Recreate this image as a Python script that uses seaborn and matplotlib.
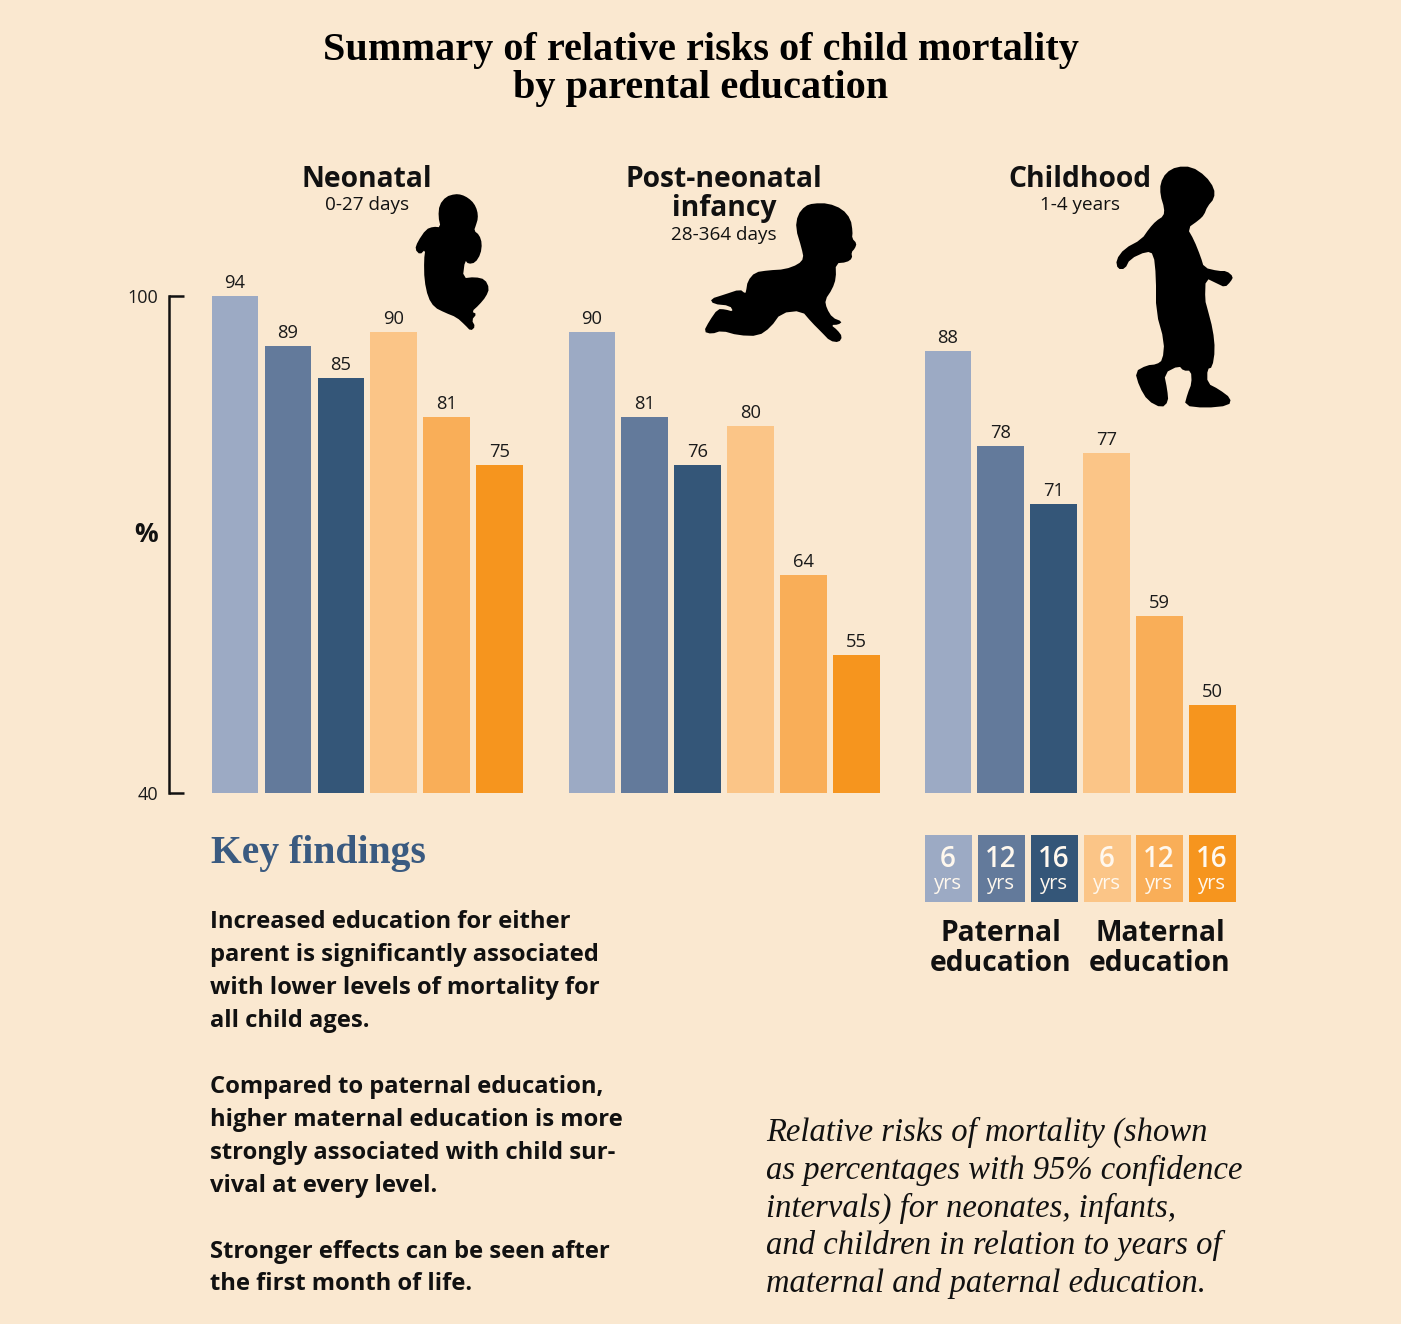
import matplotlib
matplotlib.use('Agg')
import matplotlib.pyplot as plt
from matplotlib.patches import Polygon, Rectangle
import numpy as np
import pandas as pd
import seaborn as sns

# printed numbers above the bars
education = ['P6', 'P12', 'P16', 'M6', 'M12', 'M16']
neonatal_labels = [94, 89, 85, 90, 81, 75]
postneonatal_labels = [90, 81, 76, 80, 64, 55]
childhood_labels = [88, 78, 71, 77, 59, 50]

# bar heights as read on the drawn 40-100 axis (they differ from the printed numbers)
neonatal_heights = [100.0, 93.97, 90.1, 95.66, 85.39, 79.6]
postneonatal_heights = [95.66, 85.39, 79.6, 84.31, 66.32, 56.66]
childhood_heights = [93.36, 81.89, 74.89, 81.05, 61.37, 50.62]

colors = ['#9CAAC4', '#637A9B', '#345678', '#FBC587', '#F9AE58', '#F6951E']
bg = '#FAE8D0'
W, H = 1401, 1324

# silhouettes: (origin, zoomed outline)
baby1 = ((400, 180), [(165,42),(185,44),(205,54),(222,70),(232,92),(234,115),(228,135),(222,152),(238,165),(246,190),(242,222),(226,248),(205,252),(195,240),(188,295),(225,291),(255,298),(268,325),(258,350),(237,375),(215,395),(230,402),(215,420),(226,440),(212,453),(195,435),(170,412),(135,398),(103,382),(84,352),(73,300),(72,240),(76,208),(60,224),(45,208),(53,185),(78,148),(100,140),(122,142),(115,110),(118,75),(138,50)])
baby2 = ((695, 195), [(330,33),(355,25),(400,25),(442,42),(467,72),(473,110),(471,130),(485,145),(480,160),(469,172),(472,190),(455,202),(422,205),(423,250),(412,282),(390,315),(395,340),(412,368),(442,380),(430,389),(408,390),(427,405),(442,425),(432,442),(405,438),(380,412),(350,382),(320,347),(258,354),(227,397),(190,423),(130,421),(80,407),(50,417),(26,410),(43,378),(68,342),(90,343),(115,350),(105,332),(55,327),(46,312),(90,298),(135,283),(150,295),(153,290),(158,258),(180,232),(220,226),(270,223),(310,208),(326,190),(320,160),(302,100),(308,60)])
child = ((1105, 160), [(215,20),(260,20),(302,48),(328,85),(328,115),(307,140),(297,165),(282,180),(247,205),(267,240),(287,290),(297,323),(340,333),(365,333),(385,350),(377,365),(360,382),(335,370),(302,354),(300,420),(307,445),(324,510),(330,570),(322,622),(307,627),(307,670),(342,688),(378,715),(372,737),(300,744),(238,737),(248,700),(260,670),(258,632),(235,632),(222,617),(177,640),(187,690),(190,725),(170,744),(128,722),(103,680),(90,635),(125,616),(155,613),(173,600),(178,545),(153,455),(153,350),(146,282),(125,274),(75,297),(60,327),(38,327),(33,300),(58,266),(110,238),(133,205),(153,183),(176,168),(178,145),(166,105),(166,70),(183,38)])

sns.set_theme(style='white')
plt.rcParams['font.family'] = ['Open Sans', 'DejaVu Sans']
serif = ['Liberation Serif', 'DejaVu Serif']

fig = plt.figure(figsize=(W / 100, H / 100), dpi=100, facecolor=bg)

def panel(left, heights, labels):
    ax = fig.add_axes([left / W, 1 - 793 / H, 317.4 / W, 497 / H])
    df = pd.DataFrame({'education': education, 'height': heights})
    sns.barplot(data=df, x='education', y='height', hue='education', order=education,
                hue_order=education, palette=colors, saturation=1, width=0.88, legend=False,
                linewidth=0, ax=ax)
    ax.set_ylim(40, 100)
    ax.set_xlim(-0.5, 5.5)
    ax.patch.set_alpha(0)
    ax.set_xlabel('')
    ax.set_ylabel('')
    ax.set_xticks([])
    ax.set_yticks([])
    sns.despine(ax=ax, left=True, bottom=True)
    for bar_set, lab in zip(ax.containers, labels):
        ax.bar_label(bar_set, labels=[str(lab)], padding=3, fontsize=13.2, color='#1a1a1a', clip_on=False)
    return ax

ax1 = panel(208.6, neonatal_heights, neonatal_labels)
panel(565.4, postneonatal_heights, postneonatal_labels)
panel(921.4, childhood_heights, childhood_labels)

# bracket style axis on the first panel only
ax1.spines['left'].set_visible(True)
ax1.spines['left'].set_position(('outward', 28.5))
ax1.spines['left'].set_linewidth(1.8)
ax1.spines['left'].set_color('#111111')
ax1.set_yticks([40, 100])
ax1.set_yticklabels(['40', '100'])
ax1.tick_params(axis='y', direction='in', length=10.5, width=1.8, color='#111111',
                pad=8, labelsize=13, labelcolor='#1a1a1a', left=True)

# overlay in picture pixels for the text and silhouettes
ov = fig.add_axes([0, 0, 1, 1], zorder=5)
ov.set_xlim(0, W)
ov.set_ylim(H, 0)
ov.axis('off')

def smooth(pts, rounds=1):
    pts = np.array(pts, dtype=float)
    for _ in range(rounds):
        nxt = np.roll(pts, -1, axis=0)
        pts = np.column_stack([0.75 * pts + 0.25 * nxt, 0.25 * pts + 0.75 * nxt]).reshape(-1, 2)
    return pts

for origin, outline in [baby1, baby2, child]:
    xy = smooth(outline) / 3 + np.array(origin)
    ov.add_patch(Polygon(xy, closed=True, facecolor='black', edgecolor='none'))

def txt(x, y, s, size, weight='normal', ha='center', color='#111111', **kw):
    ov.text(x, y + 2.5, s, fontsize=size, fontweight=weight, ha=ha, va='center', color=color, **kw)

txt(701, 48, 'Summary of relative risks of child mortality', 29, 'bold', family=serif, color='black')
txt(701, 86, 'by parental education', 29, 'bold', family=serif, color='black')

txt(367, 177, 'Neonatal', 20.3, 'bold')
txt(367, 203, '0-27 days', 13.6)
txt(724, 177, 'Post-neonatal', 20.3, 'bold')
txt(724, 206, 'infancy', 20.3, 'bold')
txt(724, 233, '28-364 days', 13.6)
txt(1080, 177, 'Childhood', 20.3, 'bold')
txt(1080, 203, '1-4 years', 13.6)
txt(146, 532, '%', 19, 'bold')

txt(211, 851, 'Key findings', 28.5, 'bold', ha='left', family=serif, color='#3A5A80')

body = ['Increased education for either', 'parent is significantly associated',
        'with lower levels of mortality for', 'all child ages.', '',
        'Compared to paternal education,', 'higher maternal education is more',
        'strongly associated with child sur-', 'vival at every level.', '',
        'Stronger effects can be seen after', 'the first month of life.']
for i, line in enumerate(body):
    txt(210.5, 920 + i * 32.9, line, 17.1, 'bold', ha='left')

note = ['Relative risks of mortality (shown', 'as percentages with 95% confidence',
        'intervals) for neonates, infants,', 'and children in relation to years of',
        'maternal and paternal education.']
for i, line in enumerate(note):
    txt(766, 1130 + i * 37.8, line, 23.5, ha='left', family=serif, style='italic')

# colour key under the third panel
key_x = [925, 978, 1031, 1084, 1136, 1189]
key_years = ['6', '12', '16', '6', '12', '16']
for x0, col, yr in zip(key_x, colors, key_years):
    ov.add_patch(Rectangle((x0, 835), 46.5, 67, facecolor=col, edgecolor='none'))
    txt(x0 + 23, 857, yr, 20, 'semibold', color='#FFF8EE')
    txt(x0 + 23, 881, 'yrs', 14.5, color='#FFF8EE')

txt(1001, 931, 'Paternal', 20.3, 'bold')
txt(1001, 961, 'education', 20.3, 'bold')
txt(1160, 931, 'Maternal', 20.3, 'bold')
txt(1160, 961, 'education', 20.3, 'bold')

fig.savefig('out.png', dpi=100, facecolor=bg)
